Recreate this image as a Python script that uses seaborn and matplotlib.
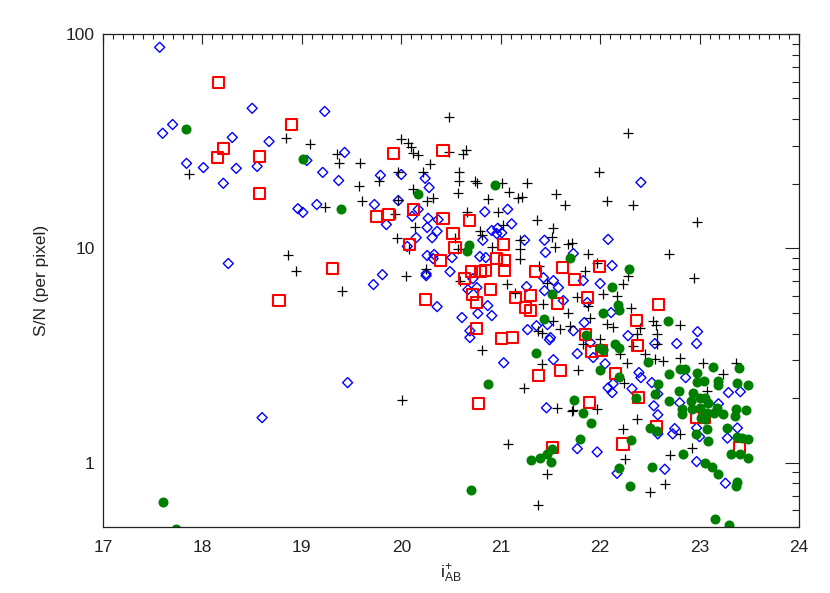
import numpy as np
import seaborn as sns
import matplotlib.pyplot as plt
from matplotlib.ticker import MultipleLocator, LogLocator, FixedLocator, NullFormatter, FixedFormatter

# --- DATA ---
# blue open diamonds
blue_x = [17.57, 17.60, 17.70, 17.84, 18.01, 18.21, 18.30, 18.50, 18.34, 18.55,
          18.67, 19.23, 19.43, 19.05, 19.21, 19.37, 19.15, 18.96, 19.01, 18.26,
          19.79, 19.73, 19.72, 19.46, 18.60, 19.81, 19.85,
          20.00, 20.24, 20.28, 19.97, 20.11, 20.17, 20.27, 20.26, 20.37, 20.36,
          20.31, 20.15, 20.06, 20.26, 20.25, 20.25, 20.84, 21.07, 20.91, 20.96,
          21.01, 21.11, 20.97, 20.82, 21.24, 21.44, 21.45, 21.73, 20.33, 20.32,
          20.51, 20.49, 20.79, 20.85, 20.72, 20.76, 20.67, 21.26, 21.43, 21.53,
          21.58, 21.44, 21.63, 20.36, 20.87, 20.91, 20.61, 20.77, 21.27, 21.36,
          21.47, 21.73, 20.69, 20.69, 21.50,
          21.03, 21.49, 21.84, 21.53, 21.77, 21.90, 21.93, 22.05, 22.13, 22.08,
          22.12, 21.46, 21.77, 21.97, 22.17,
          22.41, 22.08, 22.12, 21.83, 22.00, 21.87, 22.11, 22.28, 22.55, 22.77,
          22.97, 22.98, 22.39, 22.41, 22.52, 22.32, 22.58, 22.86, 23.29, 23.41,
          22.54, 22.58, 22.80, 23.19, 22.75, 22.97, 23.38,
          22.58, 22.73, 23.28, 22.97, 22.65, 23.26, 23.00]
blue_sn = [86.7, 34.4, 37.8, 24.9, 23.8, 20.1, 32.9, 45.0, 23.6, 24.1,
           31.5, 43.5, 28.0, 25.7, 22.6, 20.7, 16.0, 15.3, 14.7, 8.49,
           21.9, 16.0, 6.77, 2.36, 1.62, 7.53, 12.9,
           22.1, 21.2, 19.2, 16.7, 14.1, 15.2, 13.8, 12.5, 13.6, 12.0,
           11.2, 11.2, 10.2, 9.25, 7.60, 7.45, 14.8, 15.2, 12.1, 11.7,
           11.8, 13.0, 12.4, 10.9, 10.9, 10.9, 9.56, 9.45, 9.35, 8.95,
           9.05, 7.78, 9.15, 9.05, 7.21, 6.55, 6.41, 6.62, 7.29, 7.06,
           6.55, 6.34, 5.70, 5.34, 5.40, 4.85, 4.75, 4.96, 4.17, 4.35,
           4.40, 4.12, 4.12, 3.83, 3.83,
           2.92, 3.74, 4.50, 3.02, 3.22, 3.63, 3.09, 2.89, 2.33, 2.23,
           2.12, 1.80, 1.16, 1.12, 0.89,
           20.3, 11.0, 8.30, 7.06, 6.84, 5.58, 5.01, 3.91, 3.59, 3.59,
           3.59, 4.08, 2.63, 2.49, 2.36, 2.21, 2.09, 2.49, 2.12, 2.14,
           1.84, 1.67, 1.90, 1.88, 1.44, 1.45, 1.45,
           1.36, 1.36, 1.30, 1.01, 0.93, 0.80, 1.32]

# black plus signs
black_x = [18.84, 19.08, 19.35, 19.37, 17.86, 19.23, 18.86, 18.94, 19.58, 19.57,
           19.60, 19.40, 19.78,
           20.48, 20.00, 20.07, 20.10, 20.12, 20.17, 20.48, 20.65, 20.62, 20.29,
           19.97, 20.22, 20.58, 20.58, 20.74, 20.76, 21.01, 21.26, 20.12, 20.57,
           21.08, 21.56, 21.21, 21.17, 21.65, 20.32, 20.26, 20.87, 19.97, 20.66,
           20.97, 21.36, 20.14, 21.02, 20.79, 21.53, 19.96, 20.54, 20.81, 21.19,
           21.52, 20.91, 21.68, 21.19, 21.55, 20.57, 21.19, 21.39, 20.05, 20.25,
           20.59, 21.06, 21.47, 21.14, 21.43, 21.68, 21.77, 21.53, 21.37, 21.60,
           19.94, 20.08,
           22.07, 22.33, 22.97, 22.69, 22.94, 21.72, 21.88, 21.97, 21.85, 22.28,
           22.23, 22.03, 22.17, 22.31, 21.88, 21.90, 21.70, 22.07, 22.13, 22.40,
           22.37, 22.53, 22.56, 22.57, 22.57, 22.80, 22.33, 22.00, 21.83, 22.03,
           22.20, 22.45, 22.55, 22.63, 22.80, 22.27, 21.78, 22.24, 23.03, 23.24,
           23.37, 23.07, 21.97, 21.72, 22.37, 22.23, 22.28, 21.99,
           21.42, 20.81, 21.42, 21.23, 20.01, 21.57, 21.73, 21.07, 21.47, 21.38,
           22.80, 22.92, 22.70, 22.25, 22.65, 22.50]
black_sn = [32.6, 30.5, 27.4, 25.1, 22.3, 15.5, 9.30, 7.86, 24.9, 19.6,
            16.7, 6.34, 20.7,
            41.2, 32.2, 30.9, 29.6, 27.7, 27.1, 28.0, 28.9, 27.4, 24.6,
            22.8, 22.6, 22.6, 20.5, 20.5, 20.1, 20.1, 20.1, 19.0, 18.2,
            18.4, 18.0, 17.3, 17.1, 16.0, 17.1, 16.7, 16.9, 16.8, 14.7,
            14.8, 13.6, 12.5, 12.9, 12.1, 12.4, 11.2, 11.2, 11.5, 10.9,
            11.3, 10.1, 10.5, 9.97, 10.1, 9.97, 8.95, 8.30, 7.45, 8.04,
            7.06, 6.84, 6.91, 6.21, 5.52, 4.96, 5.95, 4.60, 4.12, 4.22,
            14.4, 9.97,
            16.7, 16.0, 13.2, 9.45, 7.29, 10.6, 9.45, 8.58, 7.86, 7.45,
            6.84, 6.14, 6.01, 5.28, 5.40, 4.75, 4.35, 4.45, 4.31, 4.26,
            3.99, 4.60, 4.40, 3.99, 3.59, 4.40, 3.51, 3.79, 3.59, 3.40,
            3.22, 3.22, 3.05, 2.99, 3.09, 2.92, 2.71, 2.36, 2.92, 2.60,
            2.92, 2.16, 1.78, 1.74, 1.60, 1.44, 34.4, 22.6,
            4.04, 3.36, 2.89, 2.23, 1.96, 1.80, 1.76, 1.22, 0.885, 0.634,
            1.36, 1.17, 1.08, 1.04, 0.795, 0.73]

# red open squares
red_x = [18.16, 18.90, 18.21, 18.15, 18.57, 18.57, 19.31, 18.77, 19.75, 19.87,
         19.92, 20.12, 20.08,
         20.42, 20.42, 20.52, 20.54, 20.69, 20.39, 21.03, 20.96, 21.04, 21.04,
         20.71, 20.80, 20.85, 20.64, 21.35, 21.62, 21.74, 20.90, 21.15, 21.30,
         20.72, 20.76, 20.24, 21.57, 21.25, 21.30, 20.76, 21.01, 21.12,
         21.99, 21.87, 22.59, 22.37, 21.85, 22.38, 21.91, 22.01, 21.60, 22.15,
         22.39, 21.89, 22.57, 22.97, 23.05,
         21.38, 20.78, 21.52, 22.23, 23.40]
red_sn = [59.4, 37.8, 29.2, 26.5, 26.8, 18.0, 8.04, 5.70, 14.1, 14.4,
          27.7, 15.2, 10.4,
          28.6, 13.8, 11.7, 10.1, 13.5, 8.77, 10.4, 8.95, 8.77, 7.86,
          7.78, 7.78, 7.86, 7.21, 7.78, 8.12, 7.14, 6.41, 5.88, 6.01,
          6.08, 5.58, 5.76, 5.52, 5.28, 5.12, 4.22, 3.79, 3.83,
          8.21, 5.88, 5.46, 4.60, 3.95, 3.51, 3.29, 3.33, 2.68, 2.60,
          2.01, 1.90, 1.47, 1.62, 1.62,
          2.54, 1.88, 1.17, 1.22, 1.17]

# green filled circles
green_x = [17.83, 19.01, 19.39, 20.17, 17.60, 17.73,
           20.94, 20.68, 20.66, 21.70, 21.52, 21.44,
           22.29, 22.12, 22.18, 22.19, 22.03, 22.68, 21.86, 22.00, 22.03, 22.15,
           22.19, 21.35, 22.00, 22.19, 20.87, 21.74, 21.83, 21.91, 21.80, 21.52,
           21.47, 21.40, 21.30, 21.51, 20.70, 22.19,
           22.48, 22.80, 22.85, 22.97, 22.69, 23.14, 23.40, 22.58, 22.97, 23.04,
           23.19, 23.19, 23.38, 23.49, 22.79, 22.93, 22.36, 22.55, 22.69, 22.91,
           23.00, 23.05, 23.08, 22.82, 22.82, 22.92, 23.00, 23.07, 23.15, 23.24,
           23.37, 23.47, 23.36, 23.05, 23.01, 22.50, 22.57, 23.07, 23.08, 22.96,
           23.28, 23.38, 23.43, 23.49, 22.31, 22.83, 23.32, 23.41, 23.49, 23.05,
           23.12, 23.19, 22.52, 22.30, 23.37, 23.38, 23.16, 23.30, 23.18]
green_sn = [35.9, 26.0, 15.3, 18.0, 0.655, 0.49,
            19.8, 10.4, 9.66, 9.05, 6.14, 4.70,
            8.04, 6.62, 5.46, 5.17, 5.01, 4.60, 3.95, 3.44, 3.36, 3.59,
            3.44, 3.26, 2.71, 2.51, 2.33, 1.96, 1.71, 1.53, 1.29, 1.16,
            1.10, 1.05, 1.03, 1.01, 0.745, 0.945,
            2.96, 2.74, 2.74, 2.63, 2.60, 2.80, 2.77, 2.33, 2.38, 2.41,
            2.41, 2.31, 2.36, 2.31, 2.16, 2.12, 1.99, 2.09, 1.94, 1.94,
            1.99, 2.01, 1.90, 1.78, 1.69, 1.78, 1.80, 1.71, 1.71, 1.69,
            1.78, 1.76, 1.65, 1.60, 1.62, 1.45, 1.41, 1.44, 1.26, 1.36,
            1.45, 1.32, 1.30, 1.29, 1.28, 1.09, 1.10, 1.10, 1.05, 1.00,
            0.955, 0.885, 0.955, 0.778, 0.778, 0.81, 0.545, 0.511, 1.80]

x_ticks = [17, 18, 19, 20, 21, 22, 23, 24]
y_ticks = [1, 10, 100]
y_ticklabels = ['1', '10', '100']

# --- PLOT ---
sns.set_style('white')
plt.rcParams['font.family'] = ['Liberation Sans', 'DejaVu Sans']
plt.rcParams['mathtext.default'] = 'regular'

fig = plt.figure(figsize=(8.3, 5.93), dpi=100)
ax = fig.add_axes([103 / 830, 1 - 527 / 593, 696 / 830, 493 / 593])
ax.set_yscale('log')

sns.scatterplot(x=blue_x, y=blue_sn, marker='D', s=26, color='blue',
                facecolor='none', edgecolor='blue', linewidth=1.0, ax=ax)
sns.scatterplot(x=black_x, y=black_sn, marker='+', s=60, color='black',
                linewidth=0.9, ax=ax)
sns.scatterplot(x=red_x, y=red_sn, marker='s', s=64, color='red',
                facecolor='none', edgecolor='red', linewidth=1.5, ax=ax)
sns.scatterplot(x=green_x, y=green_sn, marker='o', s=52, color='green',
                edgecolor='green', linewidth=0, ax=ax)

ax.set_xlim(17, 24)
ax.set_ylim(0.5, 100)
ax.xaxis.set_major_locator(FixedLocator(x_ticks))
ax.xaxis.set_minor_locator(MultipleLocator(0.1))
ax.yaxis.set_major_locator(FixedLocator(y_ticks))
ax.yaxis.set_major_formatter(FixedFormatter(y_ticklabels))
ax.yaxis.set_minor_locator(LogLocator(base=10, subs=np.arange(2, 10)))
ax.yaxis.set_minor_formatter(NullFormatter())

ax.tick_params(which='both', direction='in', top=True, right=True,
               colors='#222222', labelcolor='#222222', labelsize=12.5)
ax.tick_params(axis='x', which='major', length=7, width=0.8, pad=9)
ax.tick_params(axis='x', which='minor', length=3.6, width=0.8)
ax.tick_params(axis='y', which='major', length=10, width=0.8, pad=6)
ax.tick_params(axis='y', which='minor', length=5, width=0.8)
for sp in ax.spines.values():
    sp.set_linewidth(0.9)
    sp.set_color('#222222')

ax.set_xlabel(r'$\mathregular{i^{+}_{AB}}$', fontsize=12.5, color='#222222', labelpad=6)
ax.set_ylabel('S/N (per pixel)', fontsize=12.5, color='#222222', labelpad=12)

fig.savefig('out.png', dpi=100)
